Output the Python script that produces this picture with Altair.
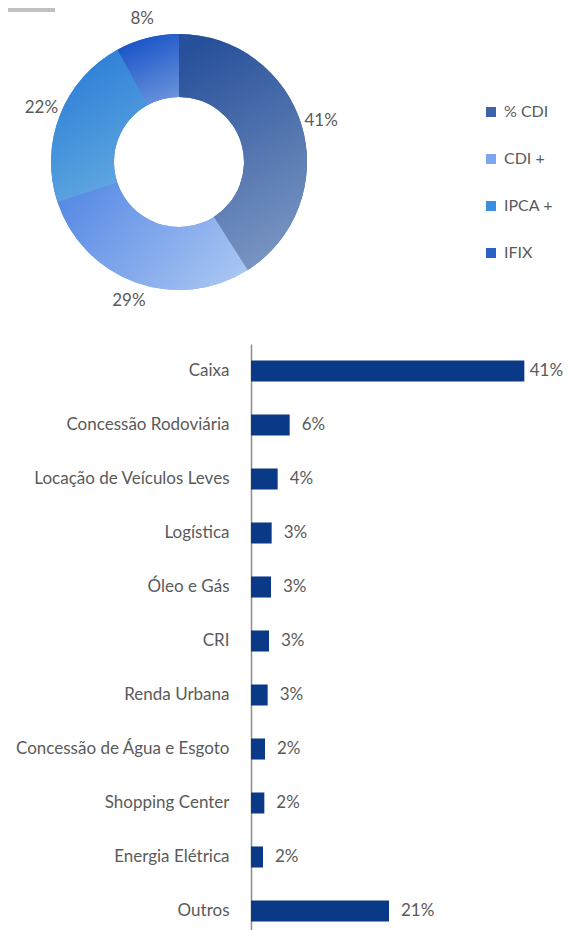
import altair as alt
import pandas as pd

# Donut data
donut_cats = ["% CDI", "CDI +", "IPCA +", "IFIX"]
donut_vals = [41, 29, 22, 8]
legend_colors = ["#3d64a8", "#7ea6ee", "#3b8edd", "#2a60c8"]
grad_start = ["#27509a", "#5a8ce5", "#2a7cd6", "#1550c6"]
grad_end = ["#7a95c2", "#a9c5f2", "#64abe1", "#6a93db"]
grad_dirs = [(0.3, 0.0, 0.6, 1.0), (0.0, 0.3, 1.0, 0.8), (0.3, 0.0, 0.7, 1.0), (0.3, 0.0, 0.7, 1.0)]

# Bar data
sectors = [
    "Caixa",
    "Concessão Rodoviária",
    "Locação de Veículos Leves",
    "Logística",
    "Óleo e Gás",
    "CRI",
    "Renda Urbana",
    "Concessão de Água e Esgoto",
    "Shopping Center",
    "Energia Elétrica",
    "Outros",
]
sector_vals = [41.0, 5.8, 4.0, 3.1, 3.0, 2.7, 2.5, 2.1, 2.0, 1.8, 20.7]

FONT = "Lato"
TXT = "#5a5a5a"

donut_df = pd.DataFrame({"cat": donut_cats, "v": donut_vals, "idx": list(range(len(donut_cats)))})
bar_df = pd.DataFrame({"sector": sectors, "val": sector_vals})

theta = alt.Theta("v:Q", stack=True)
order = alt.Order("idx:Q", sort="ascending")
cx, cy = alt.value(171), alt.value(154)

arc_base = alt.Chart(donut_df).mark_arc(innerRadius=65, outerRadius=128).encode(
    theta=theta,
    order=order,
    x=cx,
    y=cy,
    color=alt.Color(
        "cat:N",
        sort=donut_cats,
        scale=alt.Scale(domain=donut_cats, range=legend_colors),
        legend=alt.Legend(
            title=None,
            orient="none",
            legendX=475,
            legendY=96,
            symbolType="square",
            symbolSize=100,
            symbolStrokeWidth=0,
            labelFontSize=16,
            labelColor=TXT,
            labelFont=FONT,
            labelOffset=5,
            rowPadding=31,
            padding=0,
        ),
    ),
)

conds = []
for i, c in enumerate(donut_cats):
    x1, y1, x2, y2 = grad_dirs[i]
    conds.append({
        "test": f"datum.idx === {i}",
        "value": {
            "gradient": "linear",
            "x1": x1, "y1": y1, "x2": x2, "y2": y2,
            "stops": [
                {"offset": 0, "color": grad_start[i]},
                {"offset": 1, "color": grad_end[i]},
            ],
        },
    })

arc_grad = alt.Chart(donut_df).mark_arc(innerRadius=65, outerRadius=128).encode(
    theta=theta,
    order=order,
    x=cx,
    y=cy,
    color=alt.ColorValue(value="#3d64a8", condition=conds),
)

donut_text = alt.Chart(donut_df).transform_calculate(
    lbl="datum.v + '%'"
).mark_text(radius=148, fontSize=17, font=FONT, color=TXT).encode(
    theta=theta, order=order, x=cx, y=cy, text="lbl:N"
)

xscale = alt.Scale(domain=[0, 45], range=[243, 543])
xenc = alt.X("val:Q", scale=xscale, axis=None)
yenc = alt.Y(
    "sector:N",
    sort=sectors,
    scale=alt.Scale(range=[336, 930], paddingInner=0.61, paddingOuter=0.305),
    axis=alt.Axis(
        title=None,
        orient="left",
        offset=-243,
        ticks=False,
        labelPadding=22,
        labelFontSize=17,
        labelColor=TXT,
        labelFont=FONT,
        labelLimit=400,
        domainColor="#8c8c8c",
        domainWidth=1.5,
        grid=False,
    ),
)

bars = alt.Chart(bar_df).mark_bar(color="#0a3a87").encode(x=xenc, y=yenc)
# label anchor clamped so the longest bar's label stays inside the page
bar_text = alt.Chart(bar_df).transform_calculate(
    lbl="format(datum.val, '.0f') + '%'",
    lx="min(datum.val, 40)",
).mark_text(align="left", dx=12, fontSize=17, font=FONT, color=TXT).encode(
    x=alt.X("lx:Q", scale=xscale, axis=None), y=yenc, text="lbl:N"
)

deco = alt.Chart(pd.DataFrame({"k": [0]})).mark_rule(color="#c0c0c0", strokeWidth=4).encode(
    x=alt.value(0), x2=alt.value(47), y=alt.value(2)
)

chart = alt.layer(deco, arc_base, arc_grad, donut_text, bars, bar_text).properties(
    width=558, height=922, autosize="none", padding=0
).configure_view(stroke=None)

chart.save("out.html", embed_options={"renderer": "svg", "actions": False})
